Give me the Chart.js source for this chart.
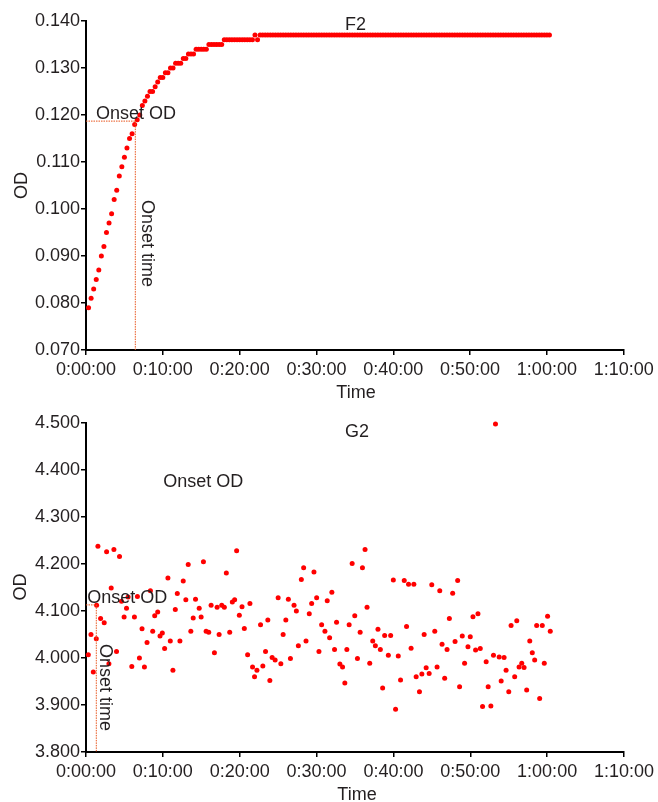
<!DOCTYPE html>
<html>
<head>
<meta charset="utf-8">
<script src="https://cdn.jsdelivr.net/npm/chart.js@4.4.0/dist/chart.umd.min.js"></script>
<style>
  html, body { margin: 0; padding: 0; background: #fff; }
  #wrap { position: relative; width: 658px; height: 802px; }
  .box { position: absolute; left: 0; width: 658px; }
  #boxF2 { top: 0; height: 400px; }
  #boxG2 { top: 400px; height: 402px; }
</style>
</head>
<body>
<div id="wrap">
  <div class="box" id="boxF2"><canvas id="chartF2" width="658" height="400"></canvas></div>
  <div class="box" id="boxG2"><canvas id="chartG2" width="658" height="402"></canvas></div>
</div>
<script>
// ---- data ----

// x axis ticks (minutes)
const X_TICKS_MIN = [0, 10, 20, 30, 40, 50, 60, 70];

// F2: one reading every 20 s, first one at 0:00:20
const F2_FIRST_READ_MIN = 1 / 3;
const F2_READ_STEP_MIN = 1 / 3;
const F2_OD = [
  0.079, 0.081, 0.083, 0.085, 0.087, 0.090, 0.092, 0.095, 0.097, 0.099,
  0.102, 0.104, 0.107, 0.109, 0.111, 0.113, 0.115, 0.116, 0.118, 0.119,
  0.120, 0.122, 0.123, 0.124, 0.125, 0.125, 0.126, 0.127, 0.128, 0.128,
  0.129, 0.129, 0.130, 0.130, 0.131, 0.131, 0.131, 0.132, 0.132, 0.133,
  0.133, 0.133, 0.134, 0.134, 0.134, 0.134, 0.134, 0.135, 0.135, 0.135,
  0.135, 0.135, 0.135, 0.136, 0.136, 0.136, 0.136, 0.136, 0.136, 0.136,
  0.136, 0.136, 0.136, 0.136, 0.136, 0.137, 0.136, 0.137, 0.137, 0.137,
  0.137, 0.137, 0.137, 0.137, 0.137, 0.137, 0.137, 0.137, 0.137, 0.137,
  0.137, 0.137, 0.137, 0.137, 0.137, 0.137, 0.137, 0.137, 0.137, 0.137,
  0.137, 0.137, 0.137, 0.137, 0.137, 0.137, 0.137, 0.137, 0.137, 0.137,
  0.137, 0.137, 0.137, 0.137, 0.137, 0.137, 0.137, 0.137, 0.137, 0.137,
  0.137, 0.137, 0.137, 0.137, 0.137, 0.137, 0.137, 0.137, 0.137, 0.137,
  0.137, 0.137, 0.137, 0.137, 0.137, 0.137, 0.137, 0.137, 0.137, 0.137,
  0.137, 0.137, 0.137, 0.137, 0.137, 0.137, 0.137, 0.137, 0.137, 0.137,
  0.137, 0.137, 0.137, 0.137, 0.137, 0.137, 0.137, 0.137, 0.137, 0.137,
  0.137, 0.137, 0.137, 0.137, 0.137, 0.137, 0.137, 0.137, 0.137, 0.137,
  0.137, 0.137, 0.137, 0.137, 0.137, 0.137, 0.137, 0.137, 0.137, 0.137,
  0.137, 0.137, 0.137, 0.137, 0.137, 0.137, 0.137, 0.137, 0.137, 0.137,
  0.137
];
const F2_ONSET_MIN = 6.42;
const F2_ONSET_OD = 0.1187;

// G2: read times (minutes) and OD
const G2_TIME_MIN = [
  0.30, 0.65, 0.95, 1.34, 1.38, 1.55, 1.90, 2.37, 2.68, 2.98,
  3.28, 3.63, 3.97, 4.36, 4.62, 4.96, 5.27, 5.48, 5.96, 6.30,
  6.69, 6.95, 7.29, 7.60, 7.94, 8.38, 8.68, 8.94, 9.33, 9.63,
  9.93, 10.23, 10.66, 10.97, 11.31, 11.62, 11.88, 12.22, 12.65, 12.99,
  13.30, 13.64, 13.95, 14.25, 14.73, 14.98, 15.28, 15.63, 15.97, 16.28,
  16.71, 17.06, 17.32, 17.66, 18.00, 18.26, 18.70, 19.04, 19.34, 19.60,
  19.95, 20.30, 20.60, 21.03, 21.33, 21.67, 21.93, 22.24, 22.71, 23.01,
  23.36, 23.66, 23.92, 24.22, 24.61, 25.00, 25.35, 25.65, 26.00, 26.33,
  26.60, 27.07, 27.37, 27.63, 28.02, 28.32, 28.63, 29.05, 29.36, 29.66,
  30.01, 30.31, 30.66, 31.09, 31.39, 31.70, 31.99, 32.34, 32.60, 33.03,
  33.38, 33.68, 33.94, 34.24, 34.63, 34.97, 35.32, 35.67, 35.97, 36.31,
  36.57, 36.92, 37.31, 37.65, 37.99, 38.30, 38.60, 38.86, 39.34, 39.64,
  39.99, 40.28, 40.63, 40.93, 41.41, 41.71, 41.97, 42.30, 42.66, 42.96,
  43.39, 43.70, 44.00, 44.26, 44.65, 44.99, 45.38, 45.68, 46.03, 46.33,
  46.67, 46.98, 47.28, 47.71, 48.02, 48.36, 48.61, 48.96, 49.26, 49.70,
  50.00, 50.35, 50.69, 51.00, 51.30, 51.60, 52.07, 52.33, 52.68, 53.02,
  53.28, 53.76, 54.02, 54.40, 54.66, 55.01, 55.31, 55.78, 56.05, 56.35,
  56.70, 57.00, 57.34, 57.74, 58.07, 58.38, 58.64, 59.03, 59.37, 59.63,
  60.06, 60.41
];
const G2_OD = [
  4.007, 4.050, 3.970, 4.041, 4.112, 4.238, 4.084, 4.075, 4.226, 3.988,
  4.149, 4.231, 4.014, 4.216, 4.121, 4.087, 4.106, 4.130, 3.982, 4.087,
  4.131, 4.000, 4.062, 3.981, 4.033, 4.143, 4.057, 4.090, 4.098, 4.047,
  4.053, 4.020, 4.170, 4.036, 3.974, 4.103, 4.137, 4.036, 4.164, 4.124,
  4.199, 4.057, 4.085, 4.125, 4.106, 4.087, 4.205, 4.057, 4.055, 4.112,
  4.011, 4.108, 4.050, 4.112, 4.108, 4.181, 4.055, 4.119, 4.124, 4.228,
  4.091, 4.109, 4.063, 4.007, 4.116, 3.981, 3.960, 3.974, 4.071, 3.983,
  4.014, 4.081, 3.952, 4.001, 3.996, 4.128, 3.988, 4.050, 4.081, 4.125,
  3.999, 4.112, 4.100, 4.026, 4.167, 4.192, 4.036, 4.094, 4.116, 4.183,
  4.128, 4.014, 4.071, 4.057, 4.122, 4.043, 4.140, 4.018, 4.076, 3.987,
  3.981, 3.947, 4.018, 4.071, 4.201, 4.090, 3.999, 4.055, 4.192, 4.231,
  4.108, 3.989, 4.036, 4.026, 4.061, 4.018, 3.936, 4.048, 4.006, 4.048,
  4.166, 3.891, 4.004, 3.953, 4.165, 4.067, 4.157, 4.021, 4.157, 3.960,
  3.928, 3.966, 4.050, 3.979, 3.967, 4.156, 4.057, 3.981, 4.143, 4.029,
  3.957, 4.018, 4.084, 4.138, 4.035, 4.165, 3.939, 4.047, 3.989, 4.024,
  4.045, 4.088, 4.017, 4.094, 4.020, 3.897, 3.992, 3.939, 3.898, 4.006,
  4.498, 4.002, 3.951, 4.001, 3.974, 3.928, 4.069, 3.960, 4.079, 3.981,
  3.989, 3.980, 3.932, 4.036, 4.011, 3.996, 4.069, 3.914, 4.069, 3.989,
  4.089, 4.057
];
const G2_ONSET_MIN = 1.34;
const G2_ONSET_OD = 4.113;

// ---- styling ----
const FONT_FAMILY = '"Liberation Sans", Arial, Helvetica, sans-serif';
const TEXT_COLOR = '#231f20';
const POINT_COLOR = '#ff0000';
const ONSET_COLOR = '#e8561e';

function fmtTime(min) {
  const h = Math.floor(min / 60);
  const m = Math.round(min % 60);
  return h + ':' + String(m).padStart(2, '0') + ':00';
}

// texts and onset guide lines, drawn in canvas pixels of each chart
const marksPlugin = {
  id: 'marks',
  afterDatasetsDraw(chart, args, opts) {
    const ctx = chart.ctx;
    const xs = chart.scales.x, ys = chart.scales.y;

    // onset guides
    const px = xs.getPixelForValue(opts.onsetMin);
    const py = ys.getPixelForValue(opts.onsetOD);
    ctx.save();
    ctx.strokeStyle = ONSET_COLOR;
    ctx.lineWidth = 1;
    ctx.setLineDash([1.5, 1]);
    ctx.beginPath();
    ctx.moveTo(xs.left, py);
    ctx.lineTo(px, py);
    ctx.moveTo(px, py);
    ctx.lineTo(px, ys.bottom);
    ctx.stroke();
    ctx.restore();

    ctx.save();
    ctx.fillStyle = TEXT_COLOR;
    ctx.font = '18px ' + FONT_FAMILY;
    ctx.textBaseline = 'alphabetic';
    opts.texts.forEach(t => {
      ctx.save();
      ctx.translate(t.x, t.y);
      if (t.rot) ctx.rotate(t.rot);
      ctx.textAlign = t.align || 'left';
      ctx.fillText(t.text, 0, 0);
      ctx.restore();
    });
    ctx.restore();
  }
};

function makeChart(canvasId, points, yMin, yMax, yStep, pad, xAxisHeight, marks) {
  const tickFont = { family: FONT_FAMILY, size: 18 };
  return new Chart(document.getElementById(canvasId), {
    type: 'scatter',
    data: {
      datasets: [{
        data: points,
        backgroundColor: POINT_COLOR,
        borderWidth: 0,
        pointRadius: 2.5,
        pointHoverRadius: 2.5,
        clip: false
      }]
    },
    options: {
      responsive: false,
      animation: false,
      events: [],
      layout: { padding: pad },
      plugins: {
        legend: { display: false },
        tooltip: { enabled: false },
        marks: marks
      },
      scales: {
        x: {
          type: 'linear',
          min: X_TICKS_MIN[0],
          max: X_TICKS_MIN[X_TICKS_MIN.length - 1],
          afterBuildTicks: s => { s.ticks = X_TICKS_MIN.map(v => ({ value: v })); },
          ticks: {
            callback: v => fmtTime(v),
            font: tickFont, color: TEXT_COLOR,
            maxRotation: 0, autoSkip: false, padding: 4
          },
          grid: { display: true, drawOnChartArea: false, drawTicks: true, tickLength: 5, color: '#000', lineWidth: 1.5 },
          border: { display: true, color: '#000', width: 2 },
          afterFit: s => { s.height = xAxisHeight; }
        },
        y: {
          min: yMin, max: yMax,
          ticks: {
            stepSize: yStep,
            callback: v => v.toFixed(3),
            font: tickFont, color: TEXT_COLOR, padding: 1
          },
          grid: { display: true, drawOnChartArea: false, drawTicks: true, tickLength: 5, color: '#000', lineWidth: 1.5 },
          border: { display: true, color: '#000', width: 2 },
          afterFit: s => { s.width = 86; }
        }
      }
    },
    plugins: [marksPlugin]
  });
}

const f2Points = F2_OD.map((v, i) => ({ x: F2_FIRST_READ_MIN + i * F2_READ_STEP_MIN, y: v }));
const g2Points = G2_OD.map((v, i) => ({ x: G2_TIME_MIN[i], y: v }));

makeChart('chartF2', f2Points, 0.070, 0.140, 0.010,
  { top: 21, right: 34.3, left: 0, bottom: 0 }, 50,
  {
    onsetMin: F2_ONSET_MIN, onsetOD: F2_ONSET_OD,
    texts: [
      { text: 'F2', x: 355.5, y: 30, align: 'center' },
      { text: 'Time', x: 356, y: 398, align: 'center' },
      { text: 'OD', x: 26.5, y: 185.5, align: 'center', rot: -Math.PI / 2 },
      { text: 'Onset OD', x: 96, y: 119 },
      { text: 'Onset time', x: 142, y: 200, rot: Math.PI / 2 }
    ]
  });

makeChart('chartG2', g2Points, 3.800, 4.500, 0.100,
  { top: 23, right: 31.3, left: 0, bottom: 0 }, 50,
  {
    onsetMin: G2_ONSET_MIN, onsetOD: G2_ONSET_OD,
    texts: [
      { text: 'G2', x: 357, y: 37, align: 'center' },
      { text: 'Time', x: 357, y: 399.5, align: 'center' },
      { text: 'OD', x: 26, y: 187, align: 'center', rot: -Math.PI / 2 },
      { text: 'Onset OD', x: 87.3, y: 203 },
      { text: 'Onset OD', x: 163.3, y: 87 },
      { text: 'Onset time', x: 100, y: 244, rot: Math.PI / 2 }
    ]
  });
</script>
</body>
</html>
